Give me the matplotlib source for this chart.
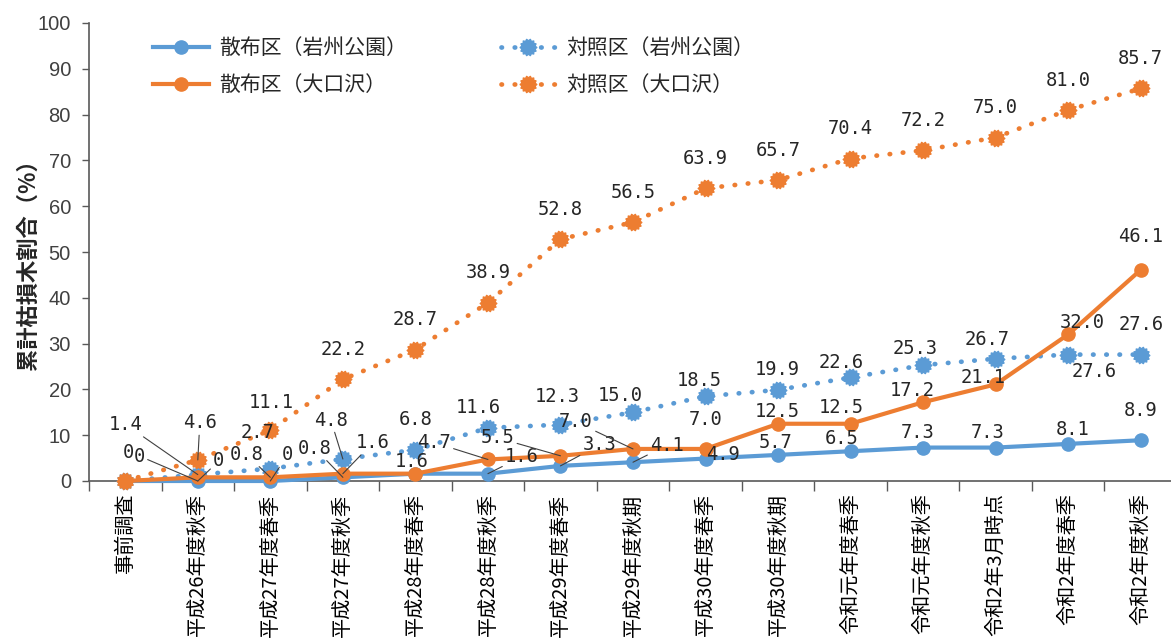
import numpy as np
import matplotlib
matplotlib.use("Agg")
import matplotlib.pyplot as plt
from matplotlib.path import Path
from matplotlib.transforms import offset_copy

# ---- data -------------------------------------------------------------
categories = ["事前調査", "平成26年度秋季", "平成27年度春季", "平成27年度秋季",
              "平成28年度春季", "平成28年度秋季", "平成29年度春季", "平成29年度秋期",
              "平成30年度春季", "平成30年度秋期", "令和元年度春季", "令和元年度秋季",
              "令和2年3月時点", "令和2年度春季", "令和2年度秋季"]
spray_iwashu = [0, 0, 0, 0.8, 1.6, 1.6, 3.3, 4.1, 4.9, 5.7, 6.5, 7.3, 7.3, 8.1, 8.9]
spray_ookuchi = [0, 0.8, 0.8, 1.6, 1.6, 4.7, 5.5, 7.0, 7.0, 12.5, 12.5, 17.2, 21.1, 32.0, 46.1]
control_iwashu = [0, 1.4, 2.7, 4.8, 6.8, 11.6, 12.3, 15.0, 18.5, 19.9, 22.6, 25.3, 26.7, 27.6, 27.6]
control_ookuchi = [0, 4.6, 11.1, 22.2, 28.7, 38.9, 52.8, 56.5, 63.9, 65.7, 70.4, 72.2, 75.0, 81.0, 85.7]
series_names = ["散布区（岩州公園）", "散布区（大口沢）", "対照区（岩州公園）", "対照区（大口沢）"]
y_ticks = [0, 10, 20, 30, 40, 50, 60, 70, 80, 90, 100]
y_label = "累計枯損木割合（%）"

# ---- styling ----------------------------------------------------------
BLUE = "#5B9BD5"
ORANGE = "#ED7D31"
CJK = ["Noto Sans CJK JP", "DejaVu Sans"]
NUM = ["Liberation Sans", "DejaVu Sans"]
LBL = ["DejaVu Sans Mono"]
DOTS = (0, (0.1, 2.7))

# label placement per series: (index, dx px, dy px, leader target index or None)
place_spray_iwashu = [(0, 14, 25, 1), (1, 21, 20, 1), (2, 17, 26, 2), (3, -28, 29, 3),
                      (5, 34, 17, 5), (6, 39, 21, 6), (7, 34, 17, 7), (8, 17, 4, None),
                      (9, -3, 12, None), (10, -9, 13, None), (11, -6, 15, None),
                      (12, -8, 15, None), (13, 4, 14, None), (14, 0, 30, None)]
place_spray_ookuchi = [(0, 3, 29, None), (2, -24, 23, 2), (3, 30, 31, 3), (4, -4, 12, None),
                       (5, -54, 17, 5), (6, -63, 18, 6), (7, -57, 27, 7), (8, 0, 29, None),
                       (9, -1, 12, None), (10, -9, 16, None), (11, -11, 12, None),
                       (12, -13, 7, None), (13, 14, 12, None), (14, 0, 33, None)]
place_control_iwashu = [(1, -72, 50, 1), (2, -13, 36, None), (3, -12, 39, 3), (4, 0, 30, None),
                        (5, -10, 20, None), (6, -3, 28, None), (7, -13, 17, None),
                        (8, -6, 16, None), (9, -1, 20, None), (10, -9, 15, None),
                        (11, -8, 17, None), (12, -9, 19, None), (13, 26, -17, None),
                        (14, 0, 30, None)]
place_control_ookuchi = [(1, 2, 37, 1), (2, 1, 28, None)] + \
    [(i, 0, 30, None) for i in range(3, 15)]

# jagged round marker for the dotted series
_n = 28
_t = np.linspace(0, 2 * np.pi, _n + 1)[:-1]
_r = np.where(np.arange(_n) % 2 == 0, 1.0, 0.8)
_v = np.column_stack([_r * np.cos(_t), _r * np.sin(_t)])
BLOB = Path(np.vstack([_v, _v[:1]]), closed=True)

W, H, DPI = 1171, 639, 100
fig = plt.figure(figsize=(W / DPI, H / DPI), dpi=DPI)
fig.patch.set_facecolor("white")

x0_px, x_end_px, y0_px, y100_px = 89, 1177, 481, 23
ax = fig.add_axes([x0_px / W, (H - y0_px) / H,
                   (x_end_px - x0_px) / W, (y0_px - y100_px) / H])

x = np.arange(len(categories))

l_si, = ax.plot(x, spray_iwashu, color=BLUE, lw=3.0, marker="o", ms=9.5,
                solid_joinstyle="round", clip_on=False, zorder=3)
l_ci, = ax.plot(x, control_iwashu, color=BLUE, lw=3.4, linestyle=DOTS,
                dash_capstyle="round", marker=BLOB, ms=12, clip_on=False, zorder=4)
l_so, = ax.plot(x, spray_ookuchi, color=ORANGE, lw=3.0, marker="o", ms=9.5,
                solid_joinstyle="round", clip_on=False, zorder=5)
l_co, = ax.plot(x, control_ookuchi, color=ORANGE, lw=3.4, linestyle=DOTS,
                dash_capstyle="round", marker=BLOB, ms=12, clip_on=False, zorder=6)


def fmt(v):
    return "0" if v == 0 else f"{v:.1f}"


def put_labels(values, placement):
    for i, dx, dy, lead in placement:
        tc = offset_copy(ax.transData, fig=fig, x=dx, y=dy, units="dots")
        kw = dict(fontsize=13.5, family=LBL, color="#262626",
                  ha="center", va="center", zorder=8, annotation_clip=False)
        if lead is None:
            ax.annotate(fmt(values[i]), xy=(i, values[i]), xytext=(i, values[i]),
                        textcoords=tc, **kw)
        else:
            ax.annotate(fmt(values[i]), xy=(lead, values[lead]), xytext=(i, values[i]),
                        textcoords=tc,
                        arrowprops=dict(arrowstyle="-", color="#404040", lw=0.8,
                                        shrinkA=0, shrinkB=0), **kw)


put_labels(spray_iwashu, place_spray_iwashu)
put_labels(spray_ookuchi, place_spray_ookuchi)
put_labels(control_iwashu, place_control_iwashu)
put_labels(control_ookuchi, place_control_ookuchi)

# axes
ax.set_xlim(-0.5, len(categories) - 0.5)
ax.set_ylim(0, 100)
ax.set_yticks(y_ticks)
ax.set_yticklabels([str(t) for t in y_ticks], family=NUM, fontsize=14.5, color="#404040")
ax.tick_params(axis="y", direction="out", length=5, width=1, color="#595959", pad=8)

ax.set_xticks(x)
ax.set_xticklabels(categories, rotation=90, va="top", ha="center",
                   family=CJK, fontsize=14.5, color="#000000")
ax.tick_params(axis="x", which="major", length=0, pad=9)
ax.set_xticks(np.arange(-0.5, len(categories), 1.0), minor=True)
ax.tick_params(axis="x", which="minor", direction="out", length=7, width=1, color="#595959")

for side in ("top", "right"):
    ax.spines[side].set_visible(False)
for side in ("left", "bottom"):
    ax.spines[side].set_color("#595959")
    ax.spines[side].set_linewidth(1.2)

fig.text(28 / W, 1 - 259 / H, y_label, rotation=90, ha="center", va="center",
         family=CJK, fontsize=16, fontweight="bold", color="#262626")

leg = ax.legend([l_si, l_so, l_ci, l_co], series_names, ncol=2, frameon=False,
                loc="upper left", bbox_to_anchor=(143 / W, 1 - 27 / H),
                bbox_transform=fig.transFigure, borderpad=0, handlelength=2.65,
                handletextpad=0.5, columnspacing=4.5, labelspacing=0.7,
                numpoints=1, prop=dict(family=CJK, size=15))
for t in leg.get_texts():
    t.set_color("#262626")

fig.savefig("out.png", dpi=DPI)
